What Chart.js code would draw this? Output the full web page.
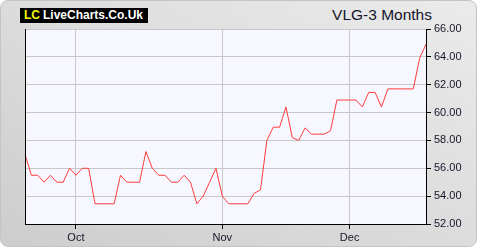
<!DOCTYPE html>
<html>
<head>
<meta charset="utf-8">
<script src="https://cdn.jsdelivr.net/npm/chart.js@4/dist/chart.umd.min.js"></script>
<style>
  html, body { margin: 0; padding: 0; background: #ffffff; }
  #wrap { position: relative; width: 480px; height: 250px; overflow: hidden; }
  #panel { position: absolute; left: 0; top: 0; width: 475px; height: 245px; border-radius: 8px;
           border: 1px solid #c4c4c4; background: linear-gradient(to bottom left, #ebebeb, #cdcdcd); }
  #logo { position: absolute; left: 20px; top: 8px; width: 128px; height: 15px; background: #000;
          font: bold 12px "Liberation Sans", Arial, sans-serif; line-height: 15px; color: #fff; white-space: nowrap; }
  #logo .lc { color: #f5f500; margin-left: 4px; margin-right: 3px; }
  #title { position: absolute; right: 48px; top: 6px; font: 15.5px "Liberation Sans", Arial, sans-serif;
           color: #15152a; white-space: nowrap; }
  canvas { position: absolute; left: 0; top: 0; }
</style>
</head>
<body>
<div id="wrap">
  <div id="panel"></div>
  <div id="logo"><span class="lc">LC</span>LiveCharts.Co.Uk</div>
  <div id="title">VLG-3 Months</div>
  <canvas id="c" width="480" height="250"></canvas>
</div>
<script>
// Daily closing prices (pence), 64 trading days
const prices = [
  57.0, 55.5, 55.5, 55.0, 55.5, 55.0, 55.0, 56.0, 55.5, 56.0,
  56.0, 53.45, 53.45, 53.45, 53.45, 55.5, 55.0, 55.0, 55.0, 57.2,
  56.0, 55.5, 55.5, 55.0, 55.0, 55.5, 55.0, 53.45, 54.0, 55.0,
  56.0, 54.0, 53.45, 53.45, 53.45, 53.45, 54.2, 54.45, 58.0, 58.95,
  58.95, 60.4, 58.2, 58.0, 58.9, 58.45, 58.45, 58.45, 58.7, 60.9,
  60.9, 60.9, 60.9, 60.4, 61.45, 61.45, 60.4, 61.7, 61.7, 61.7,
  61.7, 61.7, 63.9, 64.9
];
// Month labels and the trading-day index where each month starts
const monthNames = ['Oct', 'Nov', 'Dec'];
const monthStartIndex = [8, 31, 51];
// Y axis tick values
const yTicks = [52, 54, 56, 58, 60, 62, 64, 66];

const categories = prices.map((_, i) => {
  const k = monthStartIndex.indexOf(i);
  return k >= 0 ? monthNames[k] : '';
});

const plotBg = {
  id: 'plotBg',
  beforeDraw(chart) {
    const { ctx, chartArea: a } = chart;
    ctx.save();
    ctx.fillStyle = '#f7f8ff';
    ctx.fillRect(a.left, a.top, a.right - a.left, a.bottom - a.top);
    ctx.restore();
  },
  afterDraw(chart) {
    const { ctx, chartArea: a } = chart;
    ctx.save();
    ctx.strokeStyle = '#000';
    ctx.lineWidth = 1;
    ctx.beginPath();
    ctx.moveTo(Math.round(a.left) + 0.5, a.top);
    ctx.lineTo(Math.round(a.left) + 0.5, a.bottom + 0.5);
    ctx.stroke();
    ctx.restore();
  }
};

const tickFont = { family: '"Liberation Sans", Arial, sans-serif', size: 11 };

new Chart(document.getElementById('c'), {
  type: 'line',
  data: {
    labels: categories,
    datasets: [{
      data: prices,
      borderColor: '#ff3b3b',
      borderWidth: 1,
      pointRadius: 0,
      tension: 0,
      fill: false
    }]
  },
  options: {
    responsive: false,
    animation: false,
    events: [],
    layout: { padding: { left: 25, top: 29, right: 0, bottom: 0 } },
    plugins: { legend: { display: false }, tooltip: { enabled: false }, title: { display: false } },
    scales: {
      x: {
        type: 'category',
        offset: false,
        afterFit(s) { s.height = 26; },
        border: { color: '#000', width: 1 },
        grid: {
          offset: false,
          color: ctx => (categories[ctx.index] ? '#c8c8c8' : 'rgba(0,0,0,0)'),
          tickColor: ctx => (categories[ctx.index] ? '#000' : 'rgba(0,0,0,0)'),
          tickLength: 5
        },
        ticks: {
          autoSkip: false,
          maxRotation: 0,
          minRotation: 0,
          padding: 2,
          color: '#15152a',
          font: tickFont,
          callback: (v, i) => categories[i]
        }
      },
      y: {
        position: 'right',
        min: yTicks[0],
        max: yTicks[yTicks.length - 1],
        afterFit(s) { s.width = 54; },
        afterBuildTicks(s) { s.ticks = yTicks.map(v => ({ value: v })); },
        border: { color: '#000', width: 1 },
        grid: { color: '#c8c8c8', tickColor: '#000', tickLength: 5 },
        ticks: {
          padding: 3,
          color: '#15152a',
          font: tickFont,
          callback: v => Number(v).toFixed(2)
        }
      }
    }
  },
  plugins: [plotBg]
});
</script>
</body>
</html>
